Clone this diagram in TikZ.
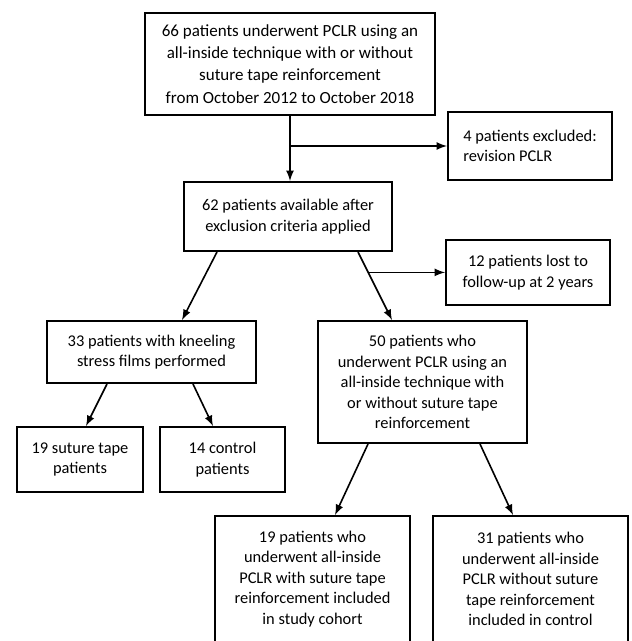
\documentclass[tikz,border=0pt]{standalone}
\usepackage{fontspec}
\setmainfont{Carlito}
\usepackage{tikz}
\usetikzlibrary{calc}
\usetikzlibrary{positioning}
\usetikzlibrary{arrows}

\begin{document}
\begin{tikzpicture}[x=0.5pt, y=-0.5pt, >=latex,
		box/.style={draw, line width=1pt, rectangle, align=center, inner sep=2pt,
			font=\fontsize{8.2}{10.25}\selectfont},
		flow/.style={thick, ->}]
				\useasboundingbox (0,0) rectangle (631,641);
				\clip (0,0) rectangle (631,641);
				
				\node[box, minimum width=145pt, minimum height=51pt, font=\fontsize{8.5}{11.1}\selectfont] (top) at (290,64) {66 patients underwent PCLR using an\\all-inside technique with or without\\suture tape reinforcement\\from October 2012 to October 2018};
				\node[box, align=left, minimum width=82pt, minimum height=34pt] (excl) at (530,146) {4 patients excluded:\\revision PCLR};
				\node[box, minimum width=104pt, minimum height=34.5pt] (avail) at (288,216.5) {62 patients available after\\exclusion criteria applied};
				\node[box, minimum width=82pt, minimum height=32.5pt] (lost) at (528,272.5) {12 patients lost to\\follow-up at 2 years};
				\node[box, minimum width=104.5pt, minimum height=31pt] (films) at (151.5,352) {33 patients with kneeling\\stress films performed};
				\node[box, minimum width=104.5pt, minimum height=61pt] (cohort) at (422.5,382) {50 patients who\\underwent PCLR using an\\all-inside technique with\\or without suture tape\\reinforcement};
				\node[box, minimum width=63pt, minimum height=32.5pt] (tape) at (80,459.5) {19 suture tape\\patients};
				\node[box, minimum width=62.5pt, minimum height=32.5pt] (ctrl) at (222.5,459.5) {14 control\\patients};
				\node[box, minimum width=97.5pt, minimum height=63pt] (study) at (312.5,579) {19 patients who\\underwent all-inside\\PCLR with suture tape\\reinforcement included\\in study cohort};
				\node[box, minimum width=97.5pt, minimum height=63pt] (control) at (530.5,579) {31 patients who\\underwent all-inside\\PCLR without suture\\tape reinforcement\\included in control};
				
				\draw[flow] (top.south) -- (top.south |- avail.north);
				\draw[flow] (top.south |- excl.west) -- (excl.west);
				\draw[flow] ([xshift=-35.5pt]avail.south) -- ([xshift=15.25pt]films.north);
				\draw[flow] ([xshift=35pt]avail.south) -- coordinate[pos=0.3] (split) ([xshift=-15.25pt]cohort.north);
				\draw[flow] (split) -- (split -| lost.west);
				\draw[flow] ([xshift=-22.25pt]films.south) -- ([xshift=3pt]tape.north);
				\draw[flow] ([xshift=20.75pt]films.south) -- ([xshift=-4.75pt]ctrl.north);
				\draw[flow] ([xshift=-27.25pt]cohort.south) -- ([xshift=11.25pt]study.north);
				\draw[flow] ([xshift=28.75pt]cohort.south) -- ([xshift=-8.75pt]control.north);
			\end{tikzpicture}
\end{document}
